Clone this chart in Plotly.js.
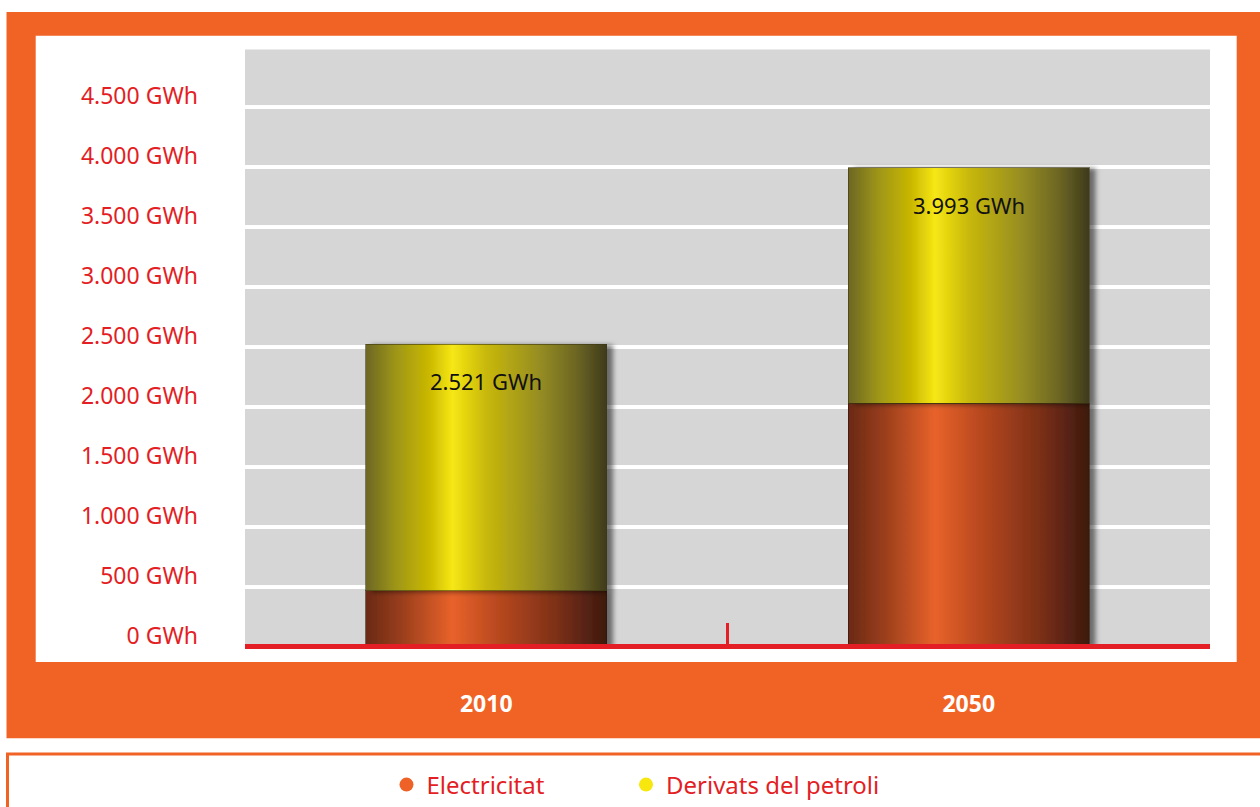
<!DOCTYPE html>
<html>
<head>
<meta charset="utf-8">
<script src="https://cdn.plot.ly/plotly-3.0.1.min.js"></script>
<style>
  html, body { margin: 0; padding: 0; background: #ffffff; }
  #chart { width: 1260px; height: 807px; }
</style>
</head>
<body>
<div id="chart"></div>
<script>
// ---- data ----
const years = ['2010', '2050'];
const electricitat = [470, 2030];
const derivats = [2051, 1963];
const yTickVals = [0, 500, 1000, 1500, 2000, 2500, 3000, 3500, 4000, 4500];
const dividerTicks = [0.5];
const seriesNames = ['Electricitat', 'Derivats del petroli'];

function fmt(n) { return String(n).replace(/\B(?=(\d{3})+(?!\d))/g, '.'); }
const totals = electricitat.map((v, i) => v + derivats[i]);
const yTickText = yTickVals.map(v => fmt(v) + ' GWh');

const RED = '#e31e24';
const ORANGE = '#f06325';
const FONT = 'Noto Sans';

const traces = [
  { type: 'bar', x: years, y: electricitat, name: seriesNames[0], width: 0.5,
    marker: { color: '#e8622a', line: { width: 1, color: 'rgba(50,25,10,0.6)' } },
    showlegend: false, hoverinfo: 'skip' },
  { type: 'bar', x: years, y: derivats, name: seriesNames[1], width: 0.5,
    marker: { color: '#e8d80c', line: { width: 1, color: 'rgba(60,55,20,0.6)' } },
    showlegend: false, hoverinfo: 'skip' },
  { type: 'scatter', mode: 'markers', x: [null], y: [null], name: seriesNames[0],
    marker: { color: '#ee6228', size: 14 }, showlegend: true, legend: 'legend' },
  { type: 'scatter', mode: 'markers', x: [null], y: [null], name: seriesNames[1],
    marker: { color: '#f7e70f', size: 14 }, showlegend: true, legend: 'legend2' },
  { type: 'scatter', x: [], y: [], xaxis: 'x2', yaxis: 'y', showlegend: false, hoverinfo: 'skip' }
];

// paper helpers (plot area: x 245..1210, y 47..647)
const L = 245, W = 965, T = 47, H = 600;
const px = v => (v - L) / W;
const py = v => (T + H - v) / H;

const legendStyle = {
  orientation: 'h', xanchor: 'left', yanchor: 'middle',
  font: { family: FONT, size: 24, color: RED },
  bgcolor: 'rgba(0,0,0,0)'
};

const layout = {
  width: 1260, height: 807,
  margin: { l: L, r: 1260 - L - W, t: T, b: 807 - T - H, pad: 0, autoexpand: false },
  paper_bgcolor: '#ffffff',
  plot_bgcolor: '#d6d6d6',
  font: { family: FONT, color: RED },
  barmode: 'stack',
  separators: ',.',
  xaxis: {
    type: 'category', range: [-0.5, 1.5],
    showgrid: false, zeroline: false, showline: false, ticks: '',
    tickfont: { family: FONT, size: 23, color: '#ffffff', weight: 'bold' },
    ticklabelstandoff: 41
  },
  xaxis2: {
    overlaying: 'x', anchor: 'y', type: 'linear', range: [-0.5, 1.5],
    tickvals: dividerTicks, ticks: 'inside', ticklen: 24, tickwidth: 3, tickcolor: RED,
    showticklabels: false, showgrid: false, zeroline: false, showline: false
  },
  yaxis: {
    range: [0, 5000],
    tickvals: yTickVals, ticktext: yTickText,
    showgrid: true, gridcolor: '#ffffff', gridwidth: 4,
    zeroline: false, showline: false, ticks: '',
    tickfont: { family: FONT, size: 23, color: RED },
    ticklabelstandoff: 46,
    ticklabelshift: -11
  },
  legend: Object.assign({ x: px(386.5), y: py(785) }, legendStyle),
  legend2: Object.assign({ x: px(626), y: py(785) }, legendStyle),
  shapes: [
    { type: 'rect', xref: 'paper', yref: 'paper', x0: px(6.5), x1: px(1262), y0: py(738.3), y1: py(12),
      fillcolor: ORANGE, line: { width: 0 }, layer: 'below' },
    { type: 'rect', xref: 'paper', yref: 'paper', x0: px(35.7), x1: px(1236.7), y0: py(662), y1: py(35.7),
      fillcolor: '#ffffff', line: { width: 0 }, layer: 'below' },
    { type: 'rect', xref: 'paper', yref: 'paper', x0: 0, x1: 1, y0: 0, y1: py(49.5),
      fillcolor: '#d6d6d6', line: { width: 0 }, layer: 'below' },
    { type: 'rect', xref: 'paper', yref: 'paper', x0: px(7.5), x1: px(1275), y0: py(900), y1: py(754),
      fillcolor: '#ffffff', line: { width: 3, color: ORANGE }, layer: 'below' },
    { type: 'line', xref: 'paper', yref: 'paper', x0: 0, x1: 1, y0: py(646.5), y1: py(646.5),
      line: { width: 5, color: RED }, layer: 'above' }
  ],
  annotations: years.map((yr, i) => ({
    x: i, y: totals[i], xref: 'x', yref: 'y', showarrow: false,
    text: fmt(totals[i]) + ' GWh', yanchor: 'middle', yshift: -37,
    font: { family: FONT, size: 22, color: '#111111' }
  }))
};

Plotly.newPlot('chart', traces, layout, { staticPlot: true, displayModeBar: false }).then(() => {
  const svg = document.querySelector('#chart .main-svg');
  const NS = 'http://www.w3.org/2000/svg';
  const defs = document.createElementNS(NS, 'defs');
  function grad(id, stops) {
    const g = document.createElementNS(NS, 'linearGradient');
    g.setAttribute('id', id);
    g.setAttribute('x1', '0'); g.setAttribute('y1', '0');
    g.setAttribute('x2', '1'); g.setAttribute('y2', '0');
    stops.forEach(([o, c]) => {
      const s = document.createElementNS(NS, 'stop');
      s.setAttribute('offset', o); s.setAttribute('stop-color', c);
      g.appendChild(s);
    });
    defs.appendChild(g);
  }
  grad('gradElec', [[0, '#6a2915'], [0.15, '#9a3e1c'], [0.36, '#e8622a'], [0.55, '#b8481f'], [0.8, '#7a2f17'], [1, '#3c190f']]);
  grad('gradDer', [[0, '#6c6624'], [0.12, '#9c9418'], [0.26, '#c9b700'], [0.36, '#f6e714'], [0.5, '#c8b80a'], [0.72, '#968d22'], [0.88, '#6a6424'], [1, '#3e3a1a']]);
  const f = document.createElementNS(NS, 'filter');
  f.setAttribute('id', 'barShadow');
  f.setAttribute('x', '-10%'); f.setAttribute('y', '-5%');
  f.setAttribute('width', '130%'); f.setAttribute('height', '110%');
  const ds = document.createElementNS(NS, 'feDropShadow');
  ds.setAttribute('dx', '6'); ds.setAttribute('dy', '1');
  ds.setAttribute('stdDeviation', '2.5');
  ds.setAttribute('flood-color', '#000'); ds.setAttribute('flood-opacity', '0.5');
  f.appendChild(ds);
  defs.appendChild(f);
  svg.insertBefore(defs, svg.firstChild);

  const barTraces = document.querySelectorAll('#chart .barlayer .trace');
  const fills = ['url(#gradElec)', 'url(#gradDer)'];
  barTraces.forEach((tr, i) => {
    tr.querySelectorAll('.point path').forEach(p => {
      p.style.fill = fills[i];
      p.style.filter = 'url(#barShadow)';
    });
  });
});
</script>
</body>
</html>
